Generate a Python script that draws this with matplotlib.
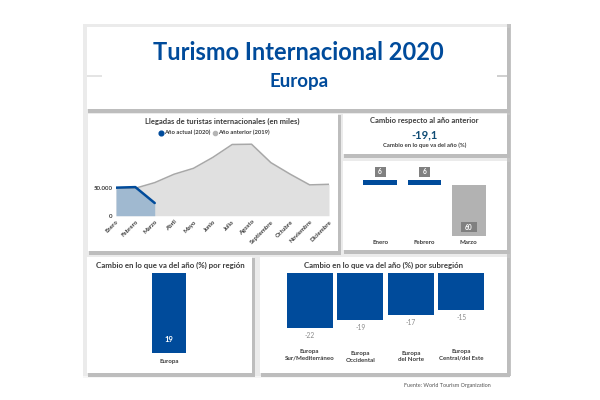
import matplotlib
matplotlib.use("Agg")
import matplotlib.pyplot as plt
from matplotlib.patches import Rectangle

plt.rcParams['font.family'] = ['Lato', 'DejaVu Sans']

BLUE = '#004b9b'
months = ['Enero', 'Febrero', 'Marzo', 'Abril', 'Mayo', 'Junio', 'Julio', 'Agosto',
          'Septiembre', 'Octubre', 'Noviembre', 'Diciembre']
arrivals_2019 = [49000, 49000, 59000, 74000, 84500, 104000, 127000, 127500, 94600, 74000, 55000, 56000]
arrivals_2020 = [50000, 51000, 22600]
month_change = [6, 6, -60]
month_change_labels = ['6', '6', '60']
month_change_cats = ['Enero', 'Febrero', 'Marzo']
region_cats = ['Europa']
region_vals = [19]
sub_cats = ['Europa\nSur/Mediterráneo', 'Europa\nOccidental', 'Europa\ndel Norte', 'Europa\nCentral/del Este']
sub_vals = [-22, -19, -17, -15]

W, H = 600, 400
fig = plt.figure(figsize=(6, 4), dpi=100, facecolor='white')


def axpx(x0, y0, x1, y1):
    a = fig.add_axes([x0 / W, 1 - y1 / H, (x1 - x0) / W, (y1 - y0) / H])
    a.patch.set_alpha(0)
    return a


bg = fig.add_axes([0, 0, 1, 1])
bg.set_xlim(0, W)
bg.set_ylim(H, 0)
bg.axis('off')

bg.add_patch(Rectangle((83, 24), 427, 352, fc='#ebebeb', ec='none'))
bg.add_patch(Rectangle((83, 376), 427, 2, fc='#f6f6f6', ec='none'))
bg.add_patch(Rectangle((507, 24), 3.5, 352, fc='#c4c4c4', ec='none'))
panels = [(87, 27, 507, 109), (88, 114, 338, 251), (343, 114, 507, 154),
          (343, 161, 507, 250), (87, 257, 252, 373), (260, 257, 507, 373)]
for x0, y0, x1, y1 in panels:
    bg.add_patch(Rectangle((x0 + 1, y0 + 1), x1 - x0 + 2, y1 - y0 + 2.5, fc='#bdbdbd', ec='none'))
    bg.add_patch(Rectangle((x0, y0), x1 - x0, y1 - y0, fc='white', ec='none'))
bg.add_patch(Rectangle((87, 75), 15, 1.5, fc='#e4e4e4', ec='none'))
bg.add_patch(Rectangle((497, 75), 10, 1.5, fc='#d0d0d0', ec='none'))

tc = '#3c3c3c'
bg.text(298, 52, 'Turismo Internacional 2020', color=BLUE, fontsize=17, fontweight='bold', ha='center', va='center')
bg.text(299, 81, 'Europa', color=BLUE, fontsize=13.5, fontweight='bold', ha='center', va='center')
bg.text(222.5, 121, 'Llegadas de turistas internacionales (en miles)', color=tc, fontsize=5.5, fontweight='bold', ha='center', va='center')
bg.text(424, 121, 'Cambio respecto al año anterior', color=tc, fontsize=5.5, fontweight='bold', ha='center', va='center')
bg.text(425, 135, '-19,1', color='#0f4c75', fontsize=8, fontweight='bold', ha='center', va='center')
bg.text(425, 145.5, 'Cambio en lo que va del año (%)', color=tc, fontsize=4.2, fontweight='bold', ha='center', va='center')
bg.text(170, 265, 'Cambio en lo que va del año (%) por región', color=tc, fontsize=5.7, fontweight='bold', ha='center', va='center')
bg.text(383.5, 265, 'Cambio en lo que va del año (%) por subregión', color=tc, fontsize=5.6, fontweight='bold', ha='center', va='center')
bg.text(447, 385, 'Fuente: World Tourism Organization', color='#555555', fontsize=3.9, ha='center', va='center')

# line chart
ax = axpx(116, 140, 329, 215.7)
xs = list(range(12))
ax.fill_between(xs, arrivals_2019, color='#e0e0e0', lw=0)
ax.plot(xs, arrivals_2019, color='#a8a8a8', lw=1.1)
ax.fill_between(xs[:3], arrivals_2020, color='#a0b9d0', lw=0)
ax.plot(xs[:3], arrivals_2020, color=BLUE, lw=1.8, solid_capstyle='round')
ax.set_xlim(0, 11)
ax.set_ylim(0, 135000)
ax.set_yticks([0, 50000])
ax.set_yticklabels(['0', '50.000'], fontsize=4.4, color=tc, fontweight='bold')
ax.set_xticks(xs)
ax.set_xticklabels(months, fontsize=4.3, color=tc, rotation=45, ha='right', rotation_mode='anchor', fontweight='bold')
ax.tick_params(length=0, pad=2.5)
for s in ax.spines.values():
    s.set_visible(False)
bg.plot([161], [132.7], 'o', color=BLUE, ms=3.4)
bg.text(164.5, 132.7, 'Año actual (2020)', fontsize=4.2, color=tc, va='center', fontweight='bold')
bg.plot([215], [132.7], 'o', color='#b5b5b5', ms=3)
bg.text(218.5, 132.7, 'Año anterior (2019)', fontsize=4.2, color=tc, va='center', fontweight='bold')

# monthly change
ax = axpx(358, 165, 491, 236)
pos = range(3)
ax.bar(pos, month_change, width=0.76, color=[BLUE, BLUE, '#b2b2b2'])
ax.set_xlim(-0.5, 2.5)
ax.set_ylim(-60, 23.5)
ax.axis('off')
for p, v, lab in zip(pos, month_change, month_change_labels):
    y = v + 9.3 if v > 0 else v + 10.3
    bw = 0.25 if len(lab) == 1 else 0.36
    ax.add_patch(Rectangle((p - bw / 2, y - 6), bw, 12, fc='#808080', ec='none'))
    ax.text(p, y, lab, color='white', fontsize=4.8, fontweight='bold', ha='center', va='center')
    ax.text(p, -68, month_change_cats[p], color=tc, fontsize=4.4, fontweight='bold', ha='center', va='center', clip_on=False)

# region
ax = axpx(145, 273, 193, 353)
ax.bar(region_cats, region_vals, width=0.71, color=BLUE)
ax.set_xlim(-0.5, 0.5)
ax.set_ylim(0, 19)
ax.axis('off')
ax.text(0, region_vals[0] * 0.165, '19', color='white', fontsize=5.5, fontweight='bold', ha='center', va='center')
ax.text(0, -1.9, region_cats[0], color=tc, fontsize=4.4, fontweight='bold', ha='center', va='center', clip_on=False)

# subregion
ax = axpx(284.5, 272.7, 486.5, 328)
pos = range(4)
ax.bar(pos, sub_vals, width=0.91, color=BLUE)
ax.set_xlim(-0.5, 3.5)
ax.set_ylim(-22, 0)
ax.axis('off')
label_y = [-32.5, -33.6, -33.3, -32.8]
for p, v, c, ly in zip(pos, sub_vals, sub_cats, label_y):
    ax.text(p, v - 2.8, str(v), color='#8a8a8a', fontsize=4.8, ha='center', va='center', clip_on=False)
    ax.text(p, ly, c, color=tc, fontsize=4.4, fontweight='bold', ha='center', va='center', clip_on=False, linespacing=1.4)

fig.savefig('out.png', dpi=100)
